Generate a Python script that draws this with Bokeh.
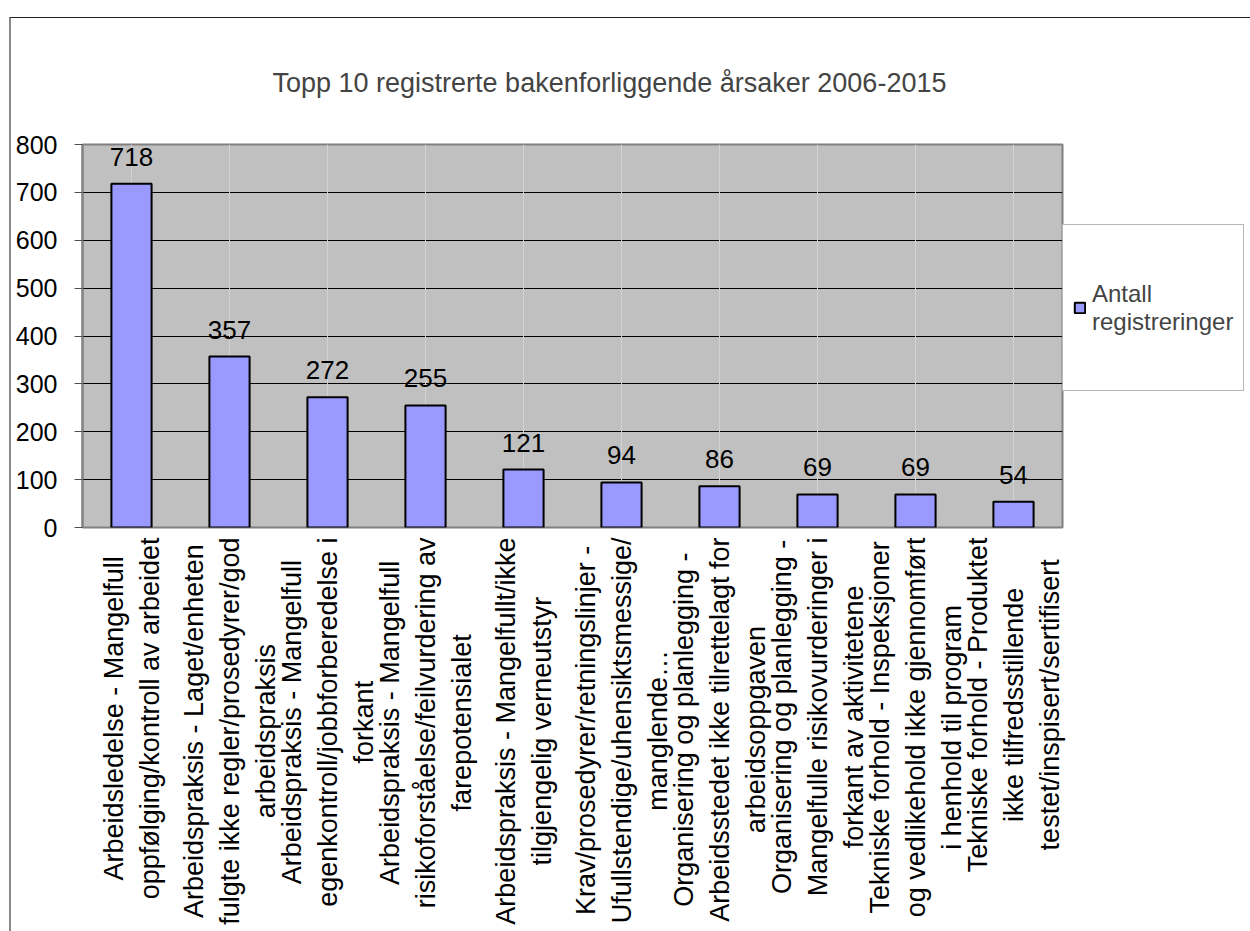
import math
from bokeh.plotting import figure
from bokeh.models import (FactorRange, Range1d, FixedTicker, Legend, LegendItem,
                          ColumnDataSource, Grid, CategoricalTicker)
from bokeh.core.properties import value
from bokeh.embed import file_html
from bokeh.resources import INLINE

title_text = "Topp 10 registrerte bakenforliggende årsaker 2006-2015"
legend_label = "Antall\nregistreringer"

categories = [
    "Arbeidsledelse - Mangelfull\noppfølging/kontroll av arbeidet",
    "Arbeidspraksis - Laget/enheten\nfulgte ikke regler/prosedyrer/god\narbeidspraksis",
    "Arbeidspraksis - Mangelfull\negenkontroll/jobbforberedelse i\nforkant",
    "Arbeidspraksis - Mangelfull\nrisikoforståelse/feilvurdering av\nfarepotensialet",
    "Arbeidspraksis - Mangelfullt/ikke\ntilgjengelig verneutstyr",
    "Krav/prosedyrer/retningslinjer -\nUfullstendige/uhensiktsmessige/\nmanglende…",
    "Organisering og planlegging -\nArbeidsstedet ikke tilrettelagt for\narbeidsoppgaven",
    "Organisering og planlegging -\nMangelfulle risikovurderinger i\nforkant av aktivitetene",
    "Tekniske forhold - Inspeksjoner\nog vedlikehold ikke gjennomført\ni henhold til program",
    "Tekniske forhold - Produktet\nikke tilfredsstillende\ntestet/inspisert/sertifisert",
]
counts = [718, 357, 272, 255, 121, 94, 86, 69, 69, 54]
y_ticks = [0, 100, 200, 300, 400, 500, 600, 700, 800]

FONT = "Liberation Sans"
n = len(categories)

source = ColumnDataSource(dict(
    cat=categories,
    count=counts,
    label=[str(c) for c in counts],
    base=[0] * n,
))

p = figure(
    width=None, height=None,
    frame_width=980, frame_height=383,
    x_range=FactorRange(*categories),
    y_range=Range1d(y_ticks[0], y_ticks[-1]),
    x_axis_type=None,
    output_backend="svg", toolbar_location=None,
    min_border_left=71, min_border_right=100,
    min_border_top=124, min_border_bottom=405,
    background_fill_color="#C0C0C0", border_fill_color="white",
    outline_line_color="#808080", outline_line_width=2,
    margin=(17, 0, 0, 9),
    styles={"border-top": "1px solid #222222", "border-left": "2px solid #888888"},
)

p.title.text = title_text
p.title.align = "left"
p.title.offset = 190
p.title.text_font = FONT
p.title.text_font_size = "27px"
p.title.text_font_style = "normal"
p.title.standoff = 94

# y axis
p.yaxis.ticker = FixedTicker(ticks=y_ticks)
p.yaxis.axis_line_color = "#808080"
p.yaxis.axis_line_width = 2
p.yaxis.major_tick_line_color = "#505050"
p.yaxis.major_tick_out = 8
p.yaxis.major_tick_in = 0
p.yaxis.minor_tick_line_color = None
p.yaxis.major_label_text_font = FONT
p.yaxis.major_label_text_font_size = "25px"
p.yaxis.major_label_text_color = "black"
p.yaxis.major_label_standoff = 17

p.ygrid.grid_line_color = "black"
p.ygrid.grid_line_width = 1

# faint vertical lines at the category centres
p.add_layout(Grid(dimension=0, ticker=CategoricalTicker(),
                  grid_line_color="#D2D2D2", grid_line_width=1))

bars = p.vbar(x="cat", top="count", width=0.41, source=source,
              fill_color="#9999FF", line_color="black", line_width=2)

p.text(x="cat", y="count", text="label", source=source,
       text_align="center", text_baseline="alphabetic", y_offset=-27,
       text_font=value(FONT), text_font_size="26px", text_color="black")

# category names, rotated, below the plot area
p.text(x="cat", y="base", text="cat", source=source,
       angle=math.pi / 2, anchor="center_right",
       text_align="center", text_baseline="middle", text_line_height=1.2,
       y_offset=10, text_font=value(FONT), text_font_size="27px",
       text_color="black", level="overlay")

legend = Legend(
    items=[LegendItem(label=value(legend_label), renderers=[bars])],
    location=(0, 136), padding=10, margin=0,
    border_line_color="#707070", border_line_width=1.5,
    background_fill_color="white", background_fill_alpha=1.0,
    label_text_font=FONT, label_text_font_size="24px",
    glyph_width=13, glyph_height=13, label_standoff=6, label_height=145,
)
p.add_layout(legend, "right")

open("out.html", "w").write(file_html(p, INLINE))
